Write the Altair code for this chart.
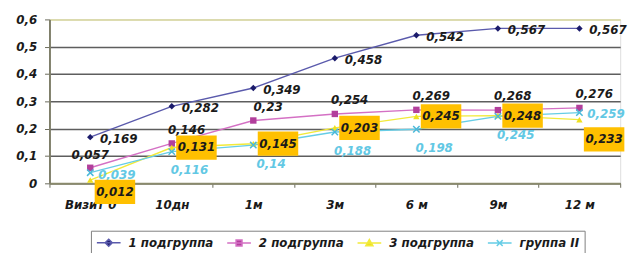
import altair as alt
import pandas as pd

visits = ["Визит 0", "10дн", "1м", "3м", "6 м", "9м", "12 м"]
series_names = ["1 подгруппа", "2 подгруппа", "3 подгруппа", "группа II"]
s1 = [0.169, 0.282, 0.349, 0.458, 0.542, 0.567, 0.567]
s2 = [0.057, 0.146, 0.23, 0.254, 0.269, 0.268, 0.276]
s3 = [0.012, 0.131, 0.145, 0.203, 0.245, 0.248, 0.233]
s4 = [0.039, 0.116, 0.14, 0.188, 0.198, 0.245, 0.259]
y_ticks = [0, 0.1, 0.2, 0.3, 0.4, 0.5, 0.6]

line_colors = ["#5a5aac", "#d470c4", "#f2ea3a", "#66cde6"]
marker_colors = ["#1b1b6b", "#b23f9c", "#eee020", "#4ab9da"]
marker_shapes = ["diamond", "square", "triangle-up", "M-1,-1L1,1M-1,1L1,-1"]
legend_paths = [
    "M-1,0H3M1,-0.6L1.6,0L1,0.6L0.4,0Z",
    "M-1,0H3M0.5,-0.5H1.5V0.5H0.5Z",
    "M-1,0H3M1,-0.6L1.6,0.45H0.4Z",
    "M-1,0H3M0.5,-0.5L1.5,0.5M0.5,0.5L1.5,-0.5",
]

rows = []
for name, vals in zip(series_names, [s1, s2, s3, s4]):
    for k, (v, val) in enumerate(zip(visits, vals)):
        rows.append({"series": name, "visit": v, "value": val, "idx": k})
df = pd.DataFrame(rows)
last_idx = len(visits) - 1

FONT = "DejaVu Sans"

x_enc = alt.X(
    "visit:N", sort=visits, title=None,
    scale=alt.Scale(type="band", paddingInner=0, paddingOuter=0),
    axis=alt.Axis(
        labelAngle=0, tickBand="extent", tickSize=4, tickColor="#6a6a5a",
        domainColor="#8a8a6c", domainWidth=2, labelPadding=13,
        labelFont=FONT, labelFontSize=12, labelFontWeight="bold",
        labelFontStyle="italic", labelColor="#1a1a1a", grid=False,
    ),
)
y_enc = alt.Y(
    "value:Q", title=None,
    scale=alt.Scale(domain=[0, 0.6], nice=False),
    axis=alt.Axis(
        values=y_ticks, grid=True, gridWidth=1.5,
        gridColor={"condition": {"test": "datum.value >= 0.6", "value": "#d6d49a"}, "value": "#5e5e5e"},
        tickSize=5, tickColor="#6a6a5a", domainColor="#7f7f6a", domainWidth=2,
        labelPadding=8, labelFont=FONT, labelFontSize=12, labelFontWeight="bold",
        labelFontStyle="italic", labelColor="#1a1a1a",
        labelExpr="datum.value == 0 ? '0' : replace(format(datum.value, '.1f'), '.', ',')",
    ),
)

base = alt.Chart(df).transform_calculate(
    label="replace(toString(datum.value), '.', ',')"
)


def sel(name, cond=None):
    c = base.transform_filter(alt.datum.series == name)
    if cond is not None:
        c = c.transform_filter(cond)
    return c


layers = []
for i, name in enumerate(series_names):
    layers.append(sel(name).mark_line(color=line_colors[i], strokeWidth=1.4).encode(x=x_enc, y=y_enc))
for i, name in enumerate(series_names):
    layers.append(sel(name).mark_point(
        shape=marker_shapes[i], filled=i < 3, color=marker_colors[i],
        size=42, opacity=1, strokeWidth=1.5,
    ).encode(x=x_enc, y=y_enc))

txt = dict(font=FONT, fontSize=12, fontWeight="bold", fontStyle="italic", baseline="middle")
enc = dict(x=x_enc, y=y_enc, text="label:N")

# series 1: right of points
layers.append(sel(series_names[0]).mark_text(align="left", dx=10, dy=2, color="#1a1a1a", **txt).encode(**enc))
# series 2: above points
layers.append(sel(series_names[1], "datum.idx == 0").mark_text(align="center", dx=0, dy=-13, color="#1a1a1a", **txt).encode(**enc))
layers.append(sel(series_names[1], "datum.idx > 0").mark_text(align="center", dx=15, dy=-14, color="#1a1a1a", **txt).encode(**enc))
# series 4: below points, first and last to the right
layers.append(sel(series_names[3], f"datum.idx == 0 || datum.idx == {last_idx}").mark_text(align="left", dx=8, dy=2, color="#62c8e4", **txt).encode(**enc))
layers.append(sel(series_names[3], f"datum.idx > 0 && datum.idx < {last_idx}").mark_text(align="center", dx=18, dy=19, color="#62c8e4", **txt).encode(**enc))
# series 3: labels in orange boxes
for cond, dy in [("datum.idx == 0", 12), (f"datum.idx > 0 && datum.idx < {last_idx}", 0), (f"datum.idx == {last_idx}", 20)]:
    s = sel(series_names[2], cond)
    layers.append(s.mark_point(
        shape="M-1,-0.6H1V0.6H-1Z", filled=True, color="#ffc000", opacity=1,
        size=1681, xOffset=25, yOffset=dy,
    ).encode(x=x_enc, y=y_enc))
    layers.append(s.mark_text(align="center", dx=25, dy=dy, color="#1a1a1a", **txt).encode(**enc))

leg = alt.Legend(
    title=None, orient="none", legendX=42, legendY=214, direction="horizontal",
    columns=4, symbolSize=144, symbolStrokeWidth=1.5, labelOffset=19,
    columnPadding=10, rowPadding=0, padding=5, strokeColor="#7f7f7f", fillColor="white",
    labelFont=FONT, labelFontSize=12, labelFontWeight="bold", labelFontStyle="italic",
    labelColor="#1a1a1a", labelLimit=400,
)
carrier = base.transform_filter("datum.value < 0").mark_point(filled=True, opacity=1).encode(
    color=alt.Color("series:N", scale=alt.Scale(domain=series_names, range=marker_colors), legend=leg),
    stroke=alt.Stroke("series:N", scale=alt.Scale(domain=series_names, range=line_colors), legend=leg),
    shape=alt.Shape("series:N", scale=alt.Scale(domain=series_names, range=legend_paths), legend=leg),
)
layers.append(carrier)

chart = alt.layer(*layers).properties(
    width=578, height=166,
    padding={"left": 42, "top": 10, "right": 15, "bottom": 69},
    autosize="none",
).configure_view(stroke="#f2f0c4", strokeWidth=1).configure(background="white")

chart.save("out.html", embed_options={"renderer": "svg", "actions": False})
